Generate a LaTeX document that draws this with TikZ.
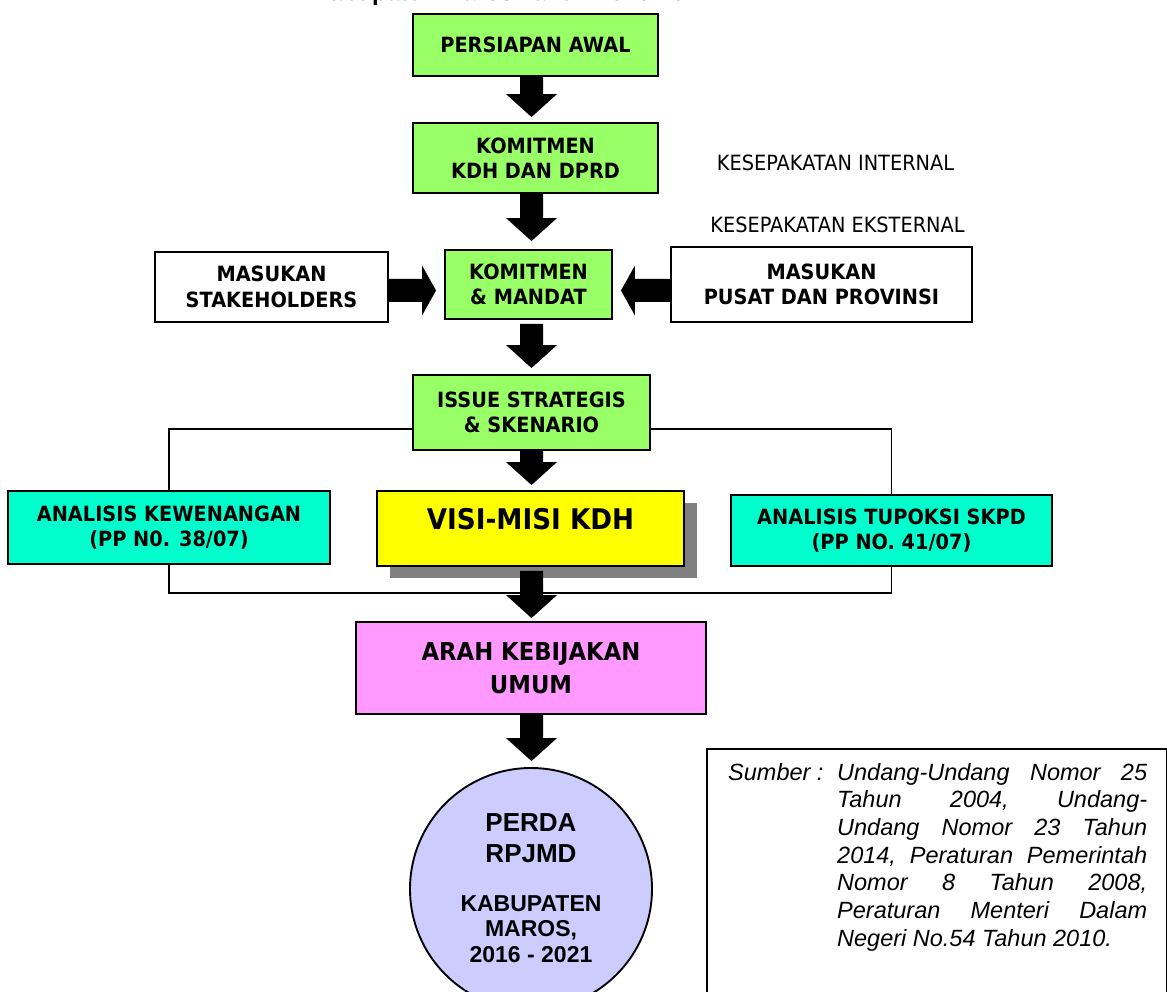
\documentclass[tikz,border=0pt]{standalone}
\usepackage{fontspec}
\newfontfamily\tah{DejaVu Sans}[FakeStretch=0.92]
\newfontfamily\ari{Liberation Sans}
\usetikzlibrary{calc,shadows}
\definecolor{cgreen}{HTML}{99FF66}
\definecolor{ccyan}{HTML}{00FFCC}
\definecolor{cyellow}{HTML}{FFFF00}
\definecolor{cpink}{HTML}{FF99FF}
\definecolor{clav}{HTML}{CCCCFF}
\definecolor{cshadow}{HTML}{808080}
\tikzset{
  box/.style={draw=black, line width=1.9pt, inner sep=0pt, align=center,
    font=\tah\bfseries\fontsize{21}{25.5}\selectfont},
  greenbox/.style={box, fill=cgreen},
  whitebox/.style={box, fill=white},
  cyanbox/.style={box, fill=ccyan},
  note/.style={inner sep=0pt, font=\tah\fontsize{21}{25}\selectfont},
  bracket/.style={draw=black, line width=1.9pt},
  blockarrow/.style={fill=black},
}
\newcommand\darrow[4]{%
  \fill[blockarrow] let \p1=(#1 -| spine), \p2=(#2 -| spine) in
    (\x1-11.5pt,\y1-#3pt) -- (\x1+11.5pt,\y1-#3pt) -- (\x1+11.5pt,\y2+#4pt+23pt)
    -- (\x1+25.5pt,\y2+#4pt+23pt) -- (\x1,\y2+#4pt) -- (\x1-25.5pt,\y2+#4pt+23pt)
    -- (\x1-11.5pt,\y2+#4pt+23pt) -- cycle;}
\newcommand\rarrow[2]{%
  \fill[blockarrow] let \p1=(#1 |- hspine), \p2=(#2 |- hspine) in
    (\x1,\y1+11.5pt) -- (\x2-22pt,\y1+11.5pt) -- (\x2-22pt,\y1+25pt) -- (\x2-8pt,\y1)
    -- (\x2-22pt,\y1-25pt) -- (\x2-22pt,\y1-11.5pt) -- (\x1,\y1-11.5pt) -- cycle;}
\newcommand\larrow[2]{%
  \fill[blockarrow] let \p1=(#1 |- hspine), \p2=(#2 |- hspine) in
    (\x1,\y1+11.5pt) -- (\x2+22pt,\y1+11.5pt) -- (\x2+22pt,\y1+25pt) -- (\x2+8pt,\y1)
    -- (\x2+22pt,\y1-25pt) -- (\x2+22pt,\y1-11.5pt) -- (\x1,\y1-11.5pt) -- cycle;}
\begin{document}
\begin{tikzpicture}[x=1pt,y=-1pt]
\useasboundingbox[fill=white] (0,0) rectangle (1167,992);
\coordinate (spine) at (531.5,0);
\coordinate (hspine) at (0,290.5);
\coordinate (bt) at (0,429);
\coordinate (bb) at (0,593);

% title (cut by the page edge, as in the reference)
\node[anchor=base west, inner sep=0pt, font=\ari\bfseries\fontsize{24}{28}\selectfont] (title) at (312,0.5) {Kabupaten Maros Tahun 2016-2021};

% boxes
\node[greenbox, minimum width=245, minimum height=62] (persiapan) at (535.5,45) {PERSIAPAN AWAL};
\node[greenbox, minimum width=245, minimum height=70] (kdh) at (535.5,158) {KOMITMEN\\KDH DAN DPRD};
\node[greenbox, minimum width=167, minimum height=69] (mandat) at (528.5,284.5) {KOMITMEN\\\& MANDAT};
\node[whitebox, minimum width=233, minimum height=70] (stake) at (271.5,287) {MASUKAN\\STAKEHOLDERS};
\node[whitebox, minimum width=301, minimum height=75] (pusat) at (821.5,284.5) {MASUKAN\\PUSAT DAN PROVINSI};
\node[greenbox, minimum width=237, minimum height=75] (issue) at (531.5,412.5) {ISSUE STRATEGIS\\\& SKENARIO};

\node[note] (internal) at (835.5,163) {KESEPAKATAN INTERNAL};
\node[note] (eksternal) at (837.5,225) {KESEPAKATAN EKSTERNAL};

\node[cyanbox, minimum width=322, minimum height=73] (kew) at (169,527.5) {ANALISIS KEWENANGAN\\(PP N0. 38/07)};
\node[cyanbox, minimum width=321, minimum height=71] (tup) at (891.5,530.5) {ANALISIS TUPOKSI SKPD\\(PP NO. 41/07)};

% bracket
\draw[bracket] (issue.west |- bt) -| (kew.north);
\draw[bracket] (issue.east |- bt) -| (tup.north);
\draw[bracket] (kew.south) |- (bb -| tup.south) -- (tup.south);

\node[box, fill=cyellow, minimum width=307, minimum height=75,
  drop shadow={shadow xshift=13pt, shadow yshift=-12pt, fill=cshadow, opacity=1, draw=none}] (visi) at (530.5,528.5) {};
\node[inner sep=0pt, font=\tah\bfseries\fontsize{28.5}{32}\selectfont] (visitext) at ([yshift=9.5pt]visi.center) {VISI-MISI KDH};

\node[box, fill=cpink, minimum width=350, minimum height=92,
  font=\tah\bfseries\fontsize{24.7}{33}\selectfont] (arah) at (531,668) {ARAH KEBIJAKAN\\UMUM};

\node[circle, draw=black, line width=1.9pt, fill=clav, minimum size=242, inner sep=0pt] (perda) at (531,889) {};
\node[inner sep=0pt, align=center, font=\ari\bfseries\fontsize{26}{31}\selectfont] (perdatext) at (531,838) {PERDA\\RPJMD};
\node[inner sep=0pt, align=center, font=\ari\bfseries\fontsize{23}{25.5}\selectfont] (kabtext) at (531,929) {KABUPATEN\\MAROS,\\2016 - 2021};

% source box
\node[draw=black, line width=1.9pt, minimum width=460, minimum height=270, anchor=north west, inner sep=0pt] (src) at (706,748) {};
\node[anchor=base west, inner sep=0pt, font=\ari\itshape\fontsize{23.5}{27.7}\selectfont] (srclabel) at (728,780) {Sumber :};
\node[anchor=base west, inner sep=0pt, font=\ari\itshape\fontsize{23.5}{27.7}\selectfont] (srctext) at (837,780) {\vtop{\hsize=310pt \baselineskip=27.7pt \lineskip=0pt
  \hbox to\hsize{Undang-Undang\hfill Nomor\hfill 25}
  \hbox to\hsize{Tahun\hfill 2004,\hfill Undang-}
  \hbox to\hsize{Undang\hfill Nomor\hfill 23\hfill Tahun}
  \hbox to\hsize{2014,\hfill Peraturan\hfill Pemerintah}
  \hbox to\hsize{Nomor\hfill 8\hfill Tahun\hfill 2008,}
  \hbox to\hsize{Peraturan\hfill Menteri\hfill Dalam}
  \hbox to\hsize{Negeri No.54 Tahun 2010.\hfill}}};

% block arrows
\darrow{persiapan.south}{kdh.north}{0}{5}
\darrow{kdh.south}{mandat.north}{0}{8}
\darrow{mandat.south}{issue.north}{4}{6}
\darrow{issue.south}{visi.north}{0}{5}
\darrow{visi.south}{arah.north}{4}{3}
\darrow{arah.south}{perda.north}{0}{6}
\rarrow{stake.east}{mandat.west}
\larrow{pusat.west}{mandat.east}
\end{tikzpicture}
\end{document}
